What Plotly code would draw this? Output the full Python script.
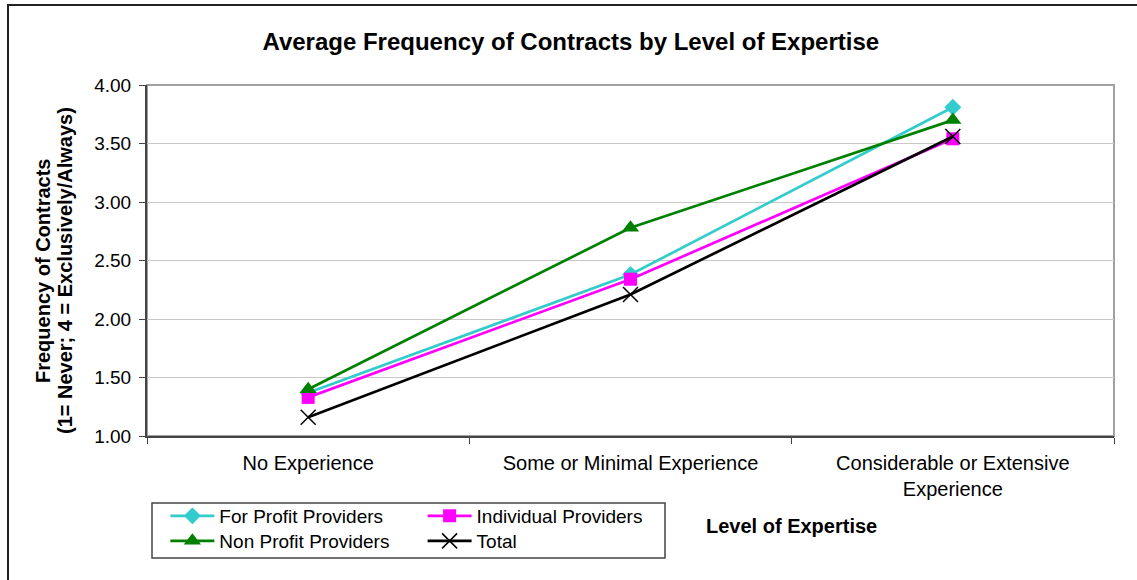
import plotly.graph_objects as go

# Datos
categorias = ["No Experience", "Some or Minimal Experience", "Considerable or Extensive<br>Experience"]
for_profit = [1.37, 2.38, 3.81]
individual = [1.33, 2.34, 3.54]
non_profit = [1.40, 2.78, 3.70]
total = [1.16, 2.21, 3.56]
y_ticks = [1.0, 1.5, 2.0, 2.5, 3.0, 3.5, 4.0]

FONT = "Liberation Sans, Arial, sans-serif"

fig = go.Figure()

fig.add_trace(go.Scatter(
    x=categorias, y=for_profit, name="For Profit Providers", mode="lines+markers",
    line=dict(color="#33CCCC", width=2.7),
    marker=dict(symbol="diamond", size=13, color="#33CCCC"),
    legend="legend"
))
fig.add_trace(go.Scatter(
    x=categorias, y=individual, name="Individual Providers", mode="lines+markers",
    line=dict(color="#FF00FF", width=2.7),
    marker=dict(symbol="square", size=13, color="#FF00FF"),
    legend="legend2"
))
fig.add_trace(go.Scatter(
    x=categorias, y=non_profit, name="Non Profit Providers", mode="lines+markers",
    line=dict(color="#008000", width=2.7),
    marker=dict(symbol="triangle-up", size=15, color="#008000"),
    legend="legend3"
))
fig.add_trace(go.Scatter(
    x=categorias, y=total, name="Total", mode="lines+markers",
    line=dict(color="#000000", width=2.7),
    marker=dict(symbol="x-thin", size=15, line=dict(color="#000000", width=1.5)),
    legend="legend4"
))

leyenda_base = dict(
    orientation="v", xanchor="left", yanchor="top", itemwidth=44,
    font=dict(family=FONT, size=19, color="black"),
    bgcolor="rgba(0,0,0,0)", borderwidth=0, tracegroupgap=0
)
fila1 = (436 - 497) / 351
fila2 = (436 - 522) / 351
col1 = 0.019
col2 = 0.285

fig.update_layout(
    width=1137, height=580,
    margin=dict(l=147, r=23, t=85, b=144),
    paper_bgcolor="white", plot_bgcolor="white",
    font=dict(family=FONT, size=19, color="black"),
    title=dict(
        text="<b>Average Frequency of Contracts by Level of Expertise</b>",
        font=dict(family=FONT, size=24, color="black"),
        x=0.502, xref="container", xanchor="center",
        y=1 - 42 / 580, yref="container", yanchor="middle"
    ),
    xaxis=dict(
        type="category", range=[-0.5, 2.5], tickson="boundaries",
        ticks="outside", ticklen=6, tickcolor="#444", showgrid=False,
        showline=True, linecolor="#444", linewidth=2, ticklabelstandoff=8,
        tickfont=dict(family=FONT, size=20, color="black")
    ),
    yaxis=dict(
        range=[1, 4], tickvals=y_ticks, tickformat=".2f",
        ticks="outside", ticklen=6, tickcolor="#444", ticklabelstandoff=4,
        showgrid=True, gridcolor="#c8c8c8", gridwidth=1,
        showline=True, linecolor="#444", linewidth=2, zeroline=False,
        tickfont=dict(family=FONT, size=19, color="black")
    ),
    legend=dict(x=col1, y=fila1, **leyenda_base),
    legend2=dict(x=col2, y=fila1, **leyenda_base),
    legend3=dict(x=col1, y=fila2, **leyenda_base),
    legend4=dict(x=col2, y=fila2, **leyenda_base),
    showlegend=True,
)

# Borde gris del area de trazado (arriba y derecha)
fig.add_shape(type="rect", xref="paper", yref="paper", x0=0, x1=1, y0=0, y1=1,
              line=dict(color="#a0a0a0", width=2), layer="below")
# Caja de la leyenda
fig.add_shape(type="rect", xref="paper", yref="paper",
              x0=(152 - 147) / 967, x1=(665 - 147) / 967,
              y0=(436 - 558) / 351, y1=(436 - 503) / 351,
              line=dict(color="#444", width=1.5))
# Borde exterior del grafico
fig.add_shape(type="rect", xref="paper", yref="paper",
              x0=(8 - 147) / 967, x1=1.2, y0=-0.7, y1=(436 - 5) / 351,
              line=dict(color="#222", width=2))

# Titulos de ejes (dos lineas separadas para controlar el interlineado)
fig.add_annotation(
    text="<b>Frequency of Contracts</b>",
    xref="paper", yref="paper", x=(43 - 147) / 967, y=(436 - 271) / 351,
    xanchor="center", yanchor="middle", textangle=-90, showarrow=False,
    font=dict(family=FONT, size=20, color="black")
)
fig.add_annotation(
    text="<b>(1= Never; 4 = Exclusively/Always)</b>",
    xref="paper", yref="paper", x=(65 - 147) / 967, y=(436 - 271) / 351,
    xanchor="center", yanchor="middle", textangle=-90, showarrow=False,
    font=dict(family=FONT, size=20, color="black")
)
fig.add_annotation(
    text="<b>Level of Expertise</b>",
    xref="paper", yref="paper", x=(791 - 147) / 967, y=(436 - 526) / 351,
    xanchor="center", yanchor="middle", showarrow=False,
    font=dict(family=FONT, size=20, color="black")
)

# Quitar el margen por defecto del body para que el grafico empiece en (0, 0)
fig.write_html("out.html", config={"displayModeBar": False},
               post_script="document.body.style.margin='0';")
